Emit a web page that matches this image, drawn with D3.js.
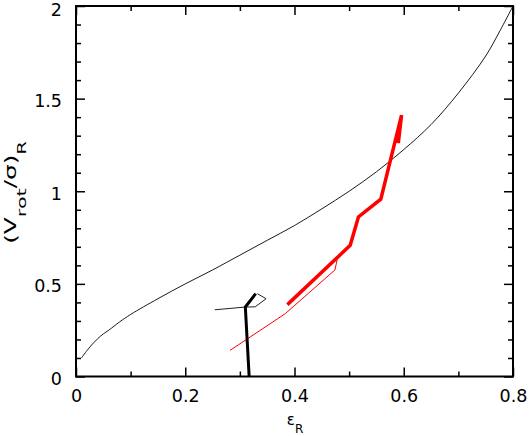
<!DOCTYPE html>
<html>
<head>
<meta charset="utf-8">
<script src="https://cdn.jsdelivr.net/npm/d3@7"></script>
<style>
  body { margin: 0; background: #fff; }
  svg { display: block; font-family: "DejaVu Sans", sans-serif; }
</style>
</head>
<body>
<div id="chart"></div>
<script>
// model line (isotropic oblate rotator)
var epsModel = [0.01, 0.02, 0.03, 0.04, 0.05, 0.06, 0.08, 0.1, 0.15, 0.2, 0.25, 0.3, 0.35, 0.4, 0.45, 0.5, 0.55, 0.6, 0.65, 0.7, 0.75, 0.775, 0.8];
var vsModel  = [0.10, 0.14, 0.175, 0.205, 0.23, 0.25, 0.295, 0.335, 0.42, 0.50, 0.575, 0.655, 0.735, 0.815, 0.905, 1.0, 1.105, 1.225, 1.36, 1.53, 1.73, 1.86, 2.0];

// black tracks
var epsBlackThick = [0.317, 0.310, 0.329];
var vsBlackThick  = [0.0, 0.375, 0.447];
var epsBlackThin  = [0.254, 0.310, 0.328, 0.348, 0.332];
var vsBlackThin   = [0.360, 0.375, 0.376, 0.420, 0.447];

// red tracks
var epsRedThick = [0.387, 0.502, 0.517, 0.558, 0.596, 0.590];
var vsRedThick  = [0.388, 0.708, 0.861, 0.957, 1.411, 1.26];
var epsRedThin  = [0.282, 0.383, 0.474, 0.478];
var vsRedThin   = [0.141, 0.339, 0.575, 0.630];

var xMajor = [0, 0.2, 0.4, 0.6, 0.8];
var xMinor = [0.1, 0.3, 0.5, 0.7];
var yMajor = [0, 0.5, 1, 1.5, 2];
var yMinor = [0.1, 0.2, 0.3, 0.4, 0.6, 0.7, 0.8, 0.9, 1.1, 1.2, 1.3, 1.4, 1.6, 1.7, 1.8, 1.9];

(function() {
  var W = 529, H = 436;
  var margin = {left: 76, top: 6, right: 16, bottom: 59.5};
  var width = W - margin.left - margin.right;
  var height = H - margin.top - margin.bottom;

  var svg = d3.select('#chart').append('svg')
    .attr('width', W)
    .attr('height', H);

  var g = svg.append('g')
    .attr('transform', 'translate(' + margin.left + ',' + margin.top + ')');

  var x = d3.scaleLinear().domain([0, 0.8]).range([0, width]);
  var y = d3.scaleLinear().domain([0, 2]).range([height, 0]);

  function zip(xs, ys) {
    return xs.map(function(v, i) { return [v, ys[i]]; });
  }

  var line = d3.line()
    .x(function(d) { return x(d[0]); })
    .y(function(d) { return y(d[1]); });

  var smooth = d3.line()
    .curve(d3.curveCatmullRom.alpha(0.5))
    .x(function(d) { return x(d[0]); })
    .y(function(d) { return y(d[1]); });

  var plot = g.append('g');

  plot.append('path')
    .attr('d', smooth(zip(epsModel, vsModel)))
    .attr('fill', 'none').attr('stroke', '#000').attr('stroke-width', 0.9);

  plot.append('path')
    .attr('d', line(zip(epsRedThin, vsRedThin)))
    .attr('fill', 'none').attr('stroke', '#ff0000').attr('stroke-width', 1);

  plot.append('path')
    .attr('d', line(zip(epsRedThick, vsRedThick)))
    .attr('fill', 'none').attr('stroke', '#ff0000').attr('stroke-width', 3.5);

  plot.append('path')
    .attr('d', line(zip(epsBlackThin, vsBlackThin)))
    .attr('fill', 'none').attr('stroke', '#222').attr('stroke-width', 1);

  plot.append('path')
    .attr('d', line(zip(epsBlackThick, vsBlackThick)))
    .attr('fill', 'none').attr('stroke', '#000').attr('stroke-width', 3);

  // axes, ticks pointing inward on all four sides
  function styleAxis(sel) {
    sel.attr('font-family', '"DejaVu Sans", sans-serif').attr('font-size', 17.5);
    sel.select('.domain').remove();
    sel.selectAll('.tick line').attr('stroke', '#000').attr('stroke-width', 1.5);
    sel.selectAll('.tick text').attr('fill', '#000');
  }

  g.append('g').attr('transform', 'translate(0,' + height + ')')
    .call(d3.axisBottom(x).tickValues(xMajor).tickSize(-9).tickPadding(13).tickFormat(d3.format('')))
    .call(styleAxis);
  g.append('g').attr('transform', 'translate(0,' + height + ')')
    .call(d3.axisBottom(x).tickValues(xMinor).tickSize(-5).tickFormat(''))
    .call(styleAxis);
  g.append('g')
    .call(d3.axisTop(x).tickValues(xMajor).tickSize(-9).tickFormat(''))
    .call(styleAxis);
  g.append('g')
    .call(d3.axisTop(x).tickValues(xMinor).tickSize(-5).tickFormat(''))
    .call(styleAxis);

  g.append('g')
    .call(d3.axisLeft(y).tickValues(yMajor).tickSize(-9).tickPadding(14).tickFormat(d3.format('')))
    .call(styleAxis)
    .selectAll('.tick text').attr('dy', function(d) { return d === 2 ? '0.52em' : '0.45em'; });
  g.append('g')
    .call(d3.axisLeft(y).tickValues(yMinor).tickSize(-5).tickFormat(''))
    .call(styleAxis);
  g.append('g').attr('transform', 'translate(' + width + ',0)')
    .call(d3.axisRight(y).tickValues(yMajor).tickSize(-9).tickFormat(''))
    .call(styleAxis);
  g.append('g').attr('transform', 'translate(' + width + ',0)')
    .call(d3.axisRight(y).tickValues(yMinor).tickSize(-5).tickFormat(''))
    .call(styleAxis);

  g.append('rect')
    .attr('width', width).attr('height', height)
    .attr('fill', 'none').attr('stroke', '#000').attr('stroke-width', 2);

  // axis titles
  var xt = svg.append('text')
    .attr('x', 295).attr('y', 425)
    .attr('text-anchor', 'middle')
    .style('font-size', '15px');
  xt.append('tspan').text('ε');
  xt.append('tspan').attr('dy', 8).style('font-size', '12px').text('R');

  // the original y title is drawn stretched along its direction
  var yt = svg.append('text')
    .attr('transform', 'translate(15.5,192.5) rotate(-90) scale(1.6,1)')
    .attr('text-anchor', 'middle')
    .style('font-size', '15.5px');
  yt.append('tspan').text('(V');
  yt.append('tspan').attr('dy', 10).style('font-size', '13px').text('rot');
  yt.append('tspan').attr('dy', -10).text('/σ)');
  yt.append('tspan').attr('dy', 10).style('font-size', '12px').text('R');
})();
</script>
</body>
</html>
